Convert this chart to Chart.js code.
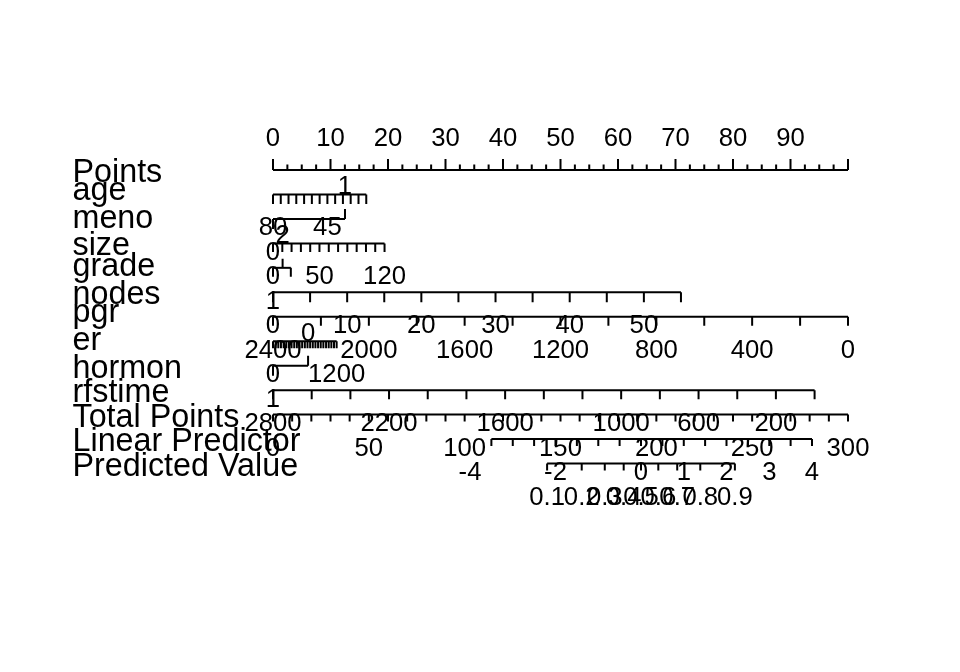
<!DOCTYPE html>
<html>
<head>
<meta charset="utf-8">
<script src="https://cdn.jsdelivr.net/npm/chart.js@4"></script>
<style>
html,body{margin:0;padding:0;background:#ffffff;}
#wrap{width:960px;height:672px;position:relative;}
</style>
</head>
<body>
<div id="wrap"><canvas id="c" width="960" height="672"></canvas></div>
<script>
// ---------------- data (positions on the 0-100 "Points" scale) ----------------
const rowNames = ["Points","age","meno","size","grade","nodes","pgr","er","hormon","rfstime","Total Points","Linear Predictor","Predicted Value"];

const pointsMajorTicks = [0,10,20,30,40,50,60,70,80,90,100];
const pointsMinorTicks = [2.5,5,7.5,12.5,15,17.5,22.5,25,27.5,32.5,35,37.5,42.5,45,47.5,52.5,55,57.5,62.5,65,67.5,72.5,75,77.5,82.5,85,87.5,92.5,95,97.5];
const pointsLabels = ["0","10","20","30","40","50","60","70","80","90"];
const pointsLabelAt = [0,10,20,30,40,50,60,70,80,90];

const ageTicks = [0,1.35,2.7,4.05,5.41,6.76,8.11,9.46,10.81,12.16,13.51,14.87,16.22];
const ageLabels = ["80","45"];
const ageLabelAt = [0,9.46];

const menoTicks = [0,12.52];
const menoLabels = ["0","1"];
const menoLabelAt = [0,12.52];

const sizeTicks = [0,1.62,3.23,4.85,6.47,8.08,9.7,11.32,12.93,14.55,16.17,17.78,19.4];
const sizeLabels = ["0","50","120"];
const sizeLabelAt = [0,8.08,19.4];

const gradeTicks = [0,1.67,3.1];
const gradeLabels = ["1","2"];
const gradeLabelAt = [0,1.67];

const nodesTicks = [0,6.45,12.9,19.35,25.8,32.25,38.7,45.15,51.6,58.05,64.5,70.95];
const nodesLabels = ["0","10","20","30","40","50"];
const nodesLabelAt = [0,12.9,25.8,38.7,51.6,64.5];

const pgrTicks = [0,8.33,16.67,25,33.33,41.67,50,58.33,66.67,75,83.33,91.67,100];
const pgrLabels = ["2400","2000","1600","1200","800","400","0"];
const pgrLabelAt = [0,16.67,33.33,50,66.67,83.33,100];

const erTicks = [0,0.46,0.92,1.38,1.85,2.31,2.77,3.23,3.69,4.15,4.61,5.07,5.54,6.0,6.46,6.92,7.38,7.84,8.3,8.76,9.23,9.69,10.15,10.61,11.07];
const erLabels = ["0","1200"];
const erLabelAt = [0,11.07];

const hormonTicks = [0,6.1];
const hormonLabels = ["1","0"];
const hormonLabelAt = [0,6.1];

const rfstimeTicks = [0,6.73,13.46,20.18,26.91,33.64,40.37,47.1,53.82,60.55,67.28,74.01,80.74,87.46,94.19];
const rfstimeLabels = ["2800","2200","1600","1000","600","200"];
const rfstimeLabelAt = [0,20.18,40.37,60.55,74.01,87.46];

const totalTicks = [0,3.33,6.67,10,13.33,16.67,20,23.33,26.67,30,33.33,36.67,40,43.33,46.67,50,53.33,56.67,60,63.33,66.67,70,73.33,76.67,80,83.33,86.67,90,93.33,96.67,100];
const totalLabels = ["0","50","100","150","200","250","300"];
const totalLabelAt = [0,16.67,33.33,50,66.67,83.33,100];

const lpTicks = [37.98,41.7,45.41,49.13,52.85,56.57,60.28,64,67.72,71.44,75.15,78.87,82.59,86.31,90.02,93.74];
const lpLabels = ["-4","-2","0","1","2","3","4"];
const lpLabelAt = [34.26,49.13,64,71.44,78.87,86.31,93.74];

const pvTicks = [47.67,53.69,57.7,60.99,64,67.01,70.3,74.31,80.33];
const pvLabels = ["0.1","0.2","0.3","0.4","0.5","0.6","0.7","0.8","0.9"];
const pvLabelAt = [47.67,53.69,57.7,60.99,64,67.01,70.3,74.31,80.33];

// ---------------- layout / style (built from the data above) ----------------
const U = "up", D = "down", A = "above", B = "below";
const rows = [
  {ticks: pointsMajorTicks, dir: U, len: 11, minor: pointsMinorTicks, minorLen: 5.5, labels: pointsLabels, at: pointsLabelAt, side: A},
  {ticks: ageTicks, dir: D, len: 9.5, labels: ageLabels, at: ageLabelAt, side: B},
  {ticks: menoTicks, dir: [D, U], len: 10, labels: menoLabels, at: menoLabelAt, side: [B, A]},
  {ticks: sizeTicks, dir: D, len: 8.5, labels: sizeLabels, at: sizeLabelAt, side: B},
  {ticks: gradeTicks, dir: [D, U, D], len: 9, labels: gradeLabels, at: gradeLabelAt, side: [B, A]},
  {ticks: nodesTicks, dir: D, len: 10, labels: nodesLabels, at: nodesLabelAt, side: B},
  {ticks: pgrTicks, dir: D, len: 9, labels: pgrLabels, at: pgrLabelAt, side: B},
  {ticks: erTicks, dir: D, len: 7, labels: erLabels, at: erLabelAt, side: B},
  {ticks: hormonTicks, dir: [D, U], len: 10, labels: hormonLabels, at: hormonLabelAt, side: [B, A]},
  {ticks: rfstimeTicks, dir: D, len: 9, labels: rfstimeLabels, at: rfstimeLabelAt, side: B},
  {ticks: totalTicks, dir: D, len: 7, labels: totalLabels, at: totalLabelAt, side: B},
  {ticks: lpTicks, dir: D, len: 7, labels: lpLabels, at: lpLabelAt, side: B},
  {ticks: pvTicks, dir: D, len: 7, labels: pvLabels, at: pvLabelAt, side: B}
];
rows.forEach((r, i) => { r.name = rowNames[i]; });

const FONT = '"Liberation Sans", Arial, Helvetica, sans-serif';
const VAR_FONT_PX = 32.3;
const AXIS_FONT_PX = 25.7;
const LABEL_ABOVE = -24.5;  // baseline offset from axis line
const LABEL_BELOW = 41;
const VAR_X = 72.5;
const LINE_W = 2;

const datasets = rows.map((r, i) => ({
  data: [{x: Math.min(...r.ticks), y: i}, {x: Math.max(...r.ticks), y: i}],
  borderColor: "#000000",
  borderWidth: LINE_W,
  pointRadius: 0,
  fill: false,
  tension: 0,
  clip: false
}));

const nomogramPlugin = {
  id: "nomogram",
  beforeDraw(chart) {
    const ctx = chart.ctx;
    ctx.save();
    ctx.fillStyle = "#ffffff";
    ctx.fillRect(0, 0, chart.width, chart.height);
    ctx.restore();
  },
  afterDatasetsDraw(chart) {
    const ctx = chart.ctx;
    const xs = chart.scales.x, ys = chart.scales.y;
    ctx.save();
    ctx.strokeStyle = "#000000";
    ctx.fillStyle = "#000000";
    ctx.lineWidth = LINE_W;
    ctx.lineCap = "butt";
    rows.forEach((r, i) => {
      const y0 = ys.getPixelForValue(i);
      // ticks
      ctx.beginPath();
      r.ticks.forEach((t, k) => {
        const d = Array.isArray(r.dir) ? r.dir[k] : r.dir;
        const px = xs.getPixelForValue(t);
        ctx.moveTo(px, y0);
        ctx.lineTo(px, d === U ? y0 - r.len : y0 + r.len);
      });
      if (r.minor) {
        r.minor.forEach(t => {
          const px = xs.getPixelForValue(t);
          ctx.moveTo(px, y0);
          ctx.lineTo(px, y0 - r.minorLen);
        });
      }
      ctx.stroke();
      // tick labels
      ctx.font = AXIS_FONT_PX + "px " + FONT;
      ctx.textAlign = "center";
      ctx.textBaseline = "alphabetic";
      r.labels.forEach((lab, k) => {
        const s = Array.isArray(r.side) ? r.side[k] : r.side;
        const px = xs.getPixelForValue(r.at[k]);
        ctx.fillText(lab, px, y0 + (s === A ? LABEL_ABOVE : LABEL_BELOW));
      });
      // variable name, vertically centred on the axis line by its ink box
      ctx.font = VAR_FONT_PX + "px " + FONT;
      ctx.textAlign = "left";
      const m = ctx.measureText(r.name);
      const base = y0 + (m.actualBoundingBoxAscent - m.actualBoundingBoxDescent) / 2;
      ctx.fillText(r.name, VAR_X, base);
    });
    ctx.restore();
  }
};

new Chart(document.getElementById("c"), {
  type: "line",
  data: {datasets},
  options: {
    responsive: false,
    animation: false,
    devicePixelRatio: 1,
    layout: {padding: {left: 273, right: 112, top: 170, bottom: 208.5}},
    plugins: {legend: {display: false}, tooltip: {enabled: false}, title: {display: false}},
    scales: {
      x: {type: "linear", min: 0, max: 100, display: false},
      y: {type: "linear", min: 0, max: 12, reverse: true, display: false}
    },
    elements: {line: {borderCapStyle: "butt"}}
  },
  plugins: [nomogramPlugin]
});
</script>
</body>
</html>
